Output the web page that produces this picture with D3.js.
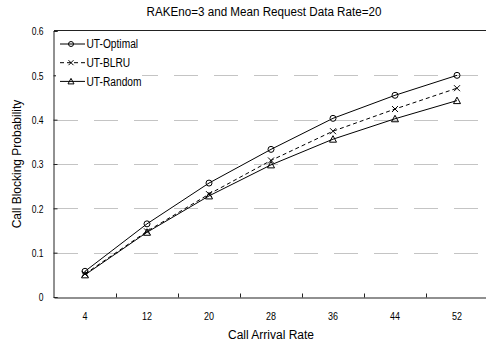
<!DOCTYPE html>
<html>
<head>
<meta charset="utf-8">
<script src="https://cdn.jsdelivr.net/npm/d3@7"></script>
<style>
  body { margin: 0; background: #fff; }
  text { font-family: "Liberation Sans", Arial, sans-serif; fill: #000; }
</style>
</head>
<body>
<div id="chart"></div>
<script>
const arrivalRates = ["4", "12", "20", "28", "36", "44", "52"];
const utOptimal = [0.058, 0.165, 0.257, 0.333, 0.403, 0.455, 0.500];
const utBlru    = [0.052, 0.148, 0.232, 0.308, 0.374, 0.424, 0.471];
const utRandom  = [0.050, 0.146, 0.228, 0.298, 0.356, 0.402, 0.443];
const yTicks = [0, 0.1, 0.2, 0.3, 0.4, 0.5, 0.6];

const series = [
    {name: "UT-Optimal", values: utOptimal, marker: "circle", dash: null},
    {name: "UT-BLRU", values: utBlru, marker: "cross", dash: "4,3"},
    {name: "UT-Random", values: utRandom, marker: "triangle", dash: null}
];

const width = 486, height = 342;
const plotLeft = 54, plotRight = 488, plotTop = 31, plotBottom = 297;

const svg = d3.select("#chart")
    .append("svg")
    .attr("width", width)
    .attr("height", height);

// squeeze text horizontally, the original uses a narrow font
function condense(sel, factor) {
    sel.each(function () {
        let w = this.getComputedTextLength();
        d3.select(this)
            .attr("textLength", w * factor)
            .attr("lengthAdjust", "spacingAndGlyphs");
    });
}

let x = d3.scaleBand()
    .domain(arrivalRates)
    .range([plotLeft, plotRight]);

let xEdge = d3.scaleLinear()
    .domain([0, arrivalRates.length])
    .range([plotLeft, plotRight]);

let y = d3.scaleLinear()
    .domain([0, 0.6])
    .range([plotBottom, plotTop]);

// dashed grid lines
svg.append("g")
    .selectAll("line")
    .data(yTicks.filter(d => d > 0 && d < 0.6))
    .enter()
    .append("line")
    .attr("x1", plotLeft)
    .attr("x2", plotRight)
    .attr("y1", d => Math.round(y(d)) + 0.5)
    .attr("y2", d => Math.round(y(d)) + 0.5)
    .style("stroke", "#c4c4c4")
    .style("stroke-width", 1)
    .style("stroke-dasharray", "24,16");

// top border
svg.append("line")
    .attr("x1", plotLeft).attr("x2", plotRight)
    .attr("y1", Math.round(y(0.6)) - 0.5).attr("y2", Math.round(y(0.6)) - 0.5)
    .style("stroke", "#222")
    .style("stroke-width", 1.2);

// y axis
let yAxis = svg.append("g")
    .attr("transform", "translate(" + (plotLeft - 0.5) + ",0)")
    .call(d3.axisLeft(y)
        .tickValues(yTicks)
        .tickSize(-4)
        .tickPadding(10)
        .tickFormat(d => d === 0 ? "0" : d3.format(".1f")(d)));
yAxis.select(".domain").attr("stroke", "#222");
yAxis.selectAll(".tick line").attr("stroke", "#222");
yAxis.selectAll("text").style("font-size", "11.5px").call(condense, 0.74);

// x axis: labels at band centres
let xAxis = svg.append("g")
    .attr("transform", "translate(0," + (plotBottom + 0.5) + ")")
    .call(d3.axisBottom(x).tickSize(0).tickPadding(14));
xAxis.select(".domain").remove();
xAxis.selectAll("text").style("font-size", "11.5px").call(condense, 0.78);

// x axis: ticks between categories
let xTickAxis = svg.append("g")
    .attr("transform", "translate(0," + (plotBottom + 0.5) + ")")
    .call(d3.axisBottom(xEdge)
        .tickValues(d3.range(1, arrivalRates.length))
        .tickSize(-4)
        .tickSizeOuter(0)
        .tickFormat(""));
xTickAxis.select(".domain").attr("stroke", "#222").style("stroke-width", 1.2);
xTickAxis.selectAll(".tick line").attr("stroke", "#222");

// lines
let line = d3.line()
    .x((d, i) => x(arrivalRates[i]) + x.bandwidth() / 2)
    .y(d => y(d));

function drawMarker(g, type, cx, cy, r) {
    if (type === "circle") {
        g.append("circle")
            .attr("cx", cx).attr("cy", cy).attr("r", r)
            .style("fill", "none").style("stroke", "#000").style("stroke-width", 1);
    } else if (type === "cross") {
        g.append("path")
            .attr("d", `M${cx - r},${cy - r}L${cx + r},${cy + r}M${cx - r},${cy + r}L${cx + r},${cy - r}`)
            .style("fill", "none").style("stroke", "#000").style("stroke-width", 1);
    } else {
        g.append("path")
            .attr("d", `M${cx},${cy - r - 0.5}L${cx + r + 0.5},${cy + r}L${cx - r - 0.5},${cy + r}Z`)
            .style("fill", "none").style("stroke", "#000").style("stroke-width", 1);
    }
}

for (var i = 0; i < series.length; i++) {
    let s = series[i];
    svg.append("path")
        .attr("d", line(s.values))
        .style("fill", "none")
        .style("stroke", "#000")
        .style("stroke-width", 1)
        .style("stroke-dasharray", s.dash);
    let g = svg.append("g");
    s.values.forEach((v, j) => {
        drawMarker(g, s.marker, x(arrivalRates[j]) + x.bandwidth() / 2, y(v), 3);
    });
}

// legend
let legend = svg.append("g");
legend.append("rect")
    .attr("x", plotLeft + 2).attr("y", plotTop + 3)
    .attr("width", 86).attr("height", 58)
    .style("fill", "#fff");
series.forEach((s, i) => {
    let ly = 44 + i * 18.7;
    legend.append("line")
        .attr("x1", 60).attr("x2", 85)
        .attr("y1", ly).attr("y2", ly)
        .style("stroke", "#000")
        .style("stroke-width", 1)
        .style("stroke-dasharray", s.dash);
    drawMarker(legend, s.marker, 71, ly, 2.5);
    legend.append("text")
        .attr("x", 86.5)
        .attr("y", ly)
        .attr("dy", "0.36em")
        .style("font-size", "12px")
        .text(s.name)
        .call(condense, 0.85);
});

// titles
svg.append("text")
    .attr("x", 264)
    .attr("y", 16)
    .attr("text-anchor", "middle")
    .style("font-size", "12px")
    .text("RAKEno=3 and Mean Request Data Rate=20")
    .call(condense, 0.97);

svg.append("text")
    .attr("x", 271)
    .attr("y", 339)
    .attr("text-anchor", "middle")
    .style("font-size", "12px")
    .text("Call Arrival Rate");

svg.append("text")
    .attr("transform", "translate(21,164) rotate(-90)")
    .attr("text-anchor", "middle")
    .style("font-size", "12px")
    .text("Call Blocking Probability");
</script>
</body>
</html>
